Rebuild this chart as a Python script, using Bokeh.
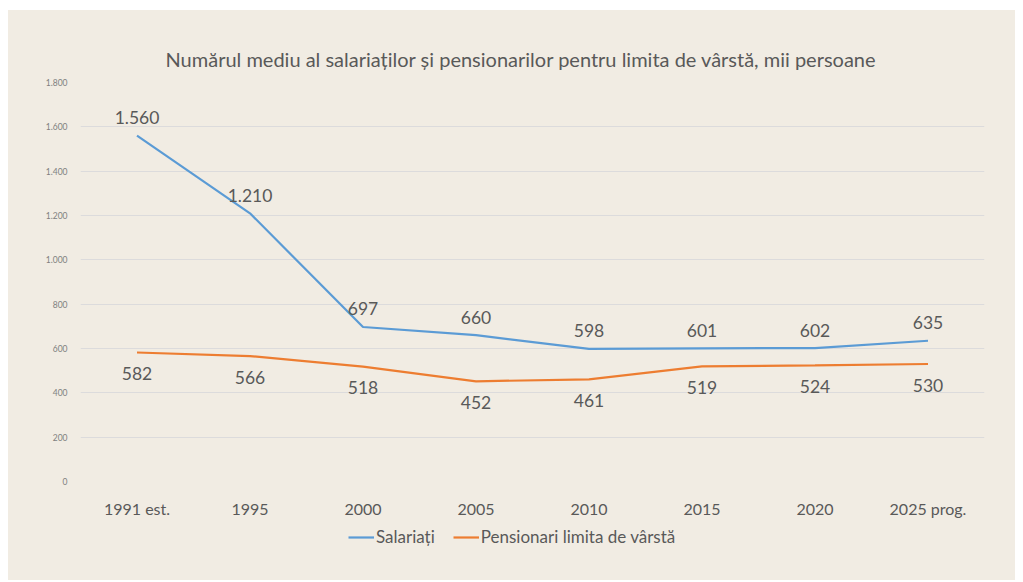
from bokeh.plotting import figure
from bokeh.layouts import column
from bokeh.models import Legend, LegendItem, FixedTicker, ColumnDataSource
from bokeh.core.properties import value
from bokeh.embed import file_html
from bokeh.resources import INLINE

categories = ["1991 est.", "1995", "2000", "2005", "2010", "2015", "2020", "2025 prog."]
salariati = [1560, 1210, 697, 660, 598, 601, 602, 635]
pensionari = [582, 566, 518, 452, 461, 519, 524, 530]
y_ticks = [0, 200, 400, 600, 800, 1000, 1200, 1400, 1600, 1800]
series_names = ["Salariați", "Pensionari limita de vârstă"]
title_text = "Numărul mediu al salariaților și pensionarilor pentru limita de vârstă, mii persoane"

FONT = "Lato"
BG = "#f1ece3"
BLUE = "#5B9BD5"
ORANGE = "#ED7D31"
TXT = "#595959"

def fmt(v):
    return f"{v:,}".replace(",", ".")

p = figure(x_range=categories, y_range=(0, 1800), width=1007, height=510,
           output_backend="svg", toolbar_location=None,
           min_border_left=72, min_border_right=31, min_border_top=72, min_border_bottom=35)

p.title.text = title_text
p.title.text_font = FONT
p.title.text_font_size = "20px"
p.title.text_font_style = "normal"
p.title.text_color = TXT
p.title.align = "left"
p.title.offset = 85
p.title.standoff = 24

p.background_fill_alpha = 0
p.border_fill_color = BG
p.outline_line_color = None

p.xgrid.grid_line_color = None
p.ygrid.grid_line_color = "#dcdbdc"
p.ygrid.grid_line_width = 1

p.yaxis.ticker = FixedTicker(ticks=y_ticks)
p.yaxis.major_label_overrides = {t: fmt(t) for t in y_ticks}
p.yaxis.major_label_text_font_size = "8.5px"
p.yaxis.major_label_text_color = "#7f7f7f"
p.yaxis.major_label_text_font = FONT
p.yaxis.axis_line_color = None
p.yaxis.major_tick_line_color = None
p.yaxis.minor_tick_line_color = None
p.yaxis.major_label_standoff = 7

p.xaxis.axis_line_color = None
p.xaxis.major_tick_line_color = None
p.xaxis.major_label_text_font_size = "16px"
p.xaxis.major_label_text_color = TXT
p.xaxis.major_label_text_font = FONT
p.xaxis.major_label_standoff = 11

p.x_range.range_padding = 0

src = ColumnDataSource(dict(
    x=categories, s=salariati, pz=pensionari,
    st=[fmt(v) for v in salariati], pt=[fmt(v) for v in pensionari]))

p.line("x", "s", source=src, line_color=BLUE, line_width=2.2)
p.line("x", "pz", source=src, line_color=ORANGE, line_width=2.2)

p.text("x", "s", text="st", source=src, text_align="center", text_baseline="middle",
       y_offset=-18, text_font=value(FONT), text_font_size="17.5px", text_color=TXT)
p.text("x", "pz", text="pt", source=src, text_align="center", text_baseline="middle",
       y_offset=21, text_font=value(FONT), text_font_size="17.5px", text_color=TXT)

# legend strip (helper lines drawn outside the visible range only to give legend swatches)
p2 = figure(width=1007, height=60, x_range=(0, 1), y_range=(0, 1),
            output_backend="svg", toolbar_location=None,
            min_border=0, min_border_left=0, min_border_right=0,
            min_border_top=0, min_border_bottom=0)
p2.axis.visible = False
p2.grid.visible = False
p2.outline_line_color = None
p2.background_fill_alpha = 0
p2.border_fill_color = BG
l1 = p2.line(x=[0, 1], y=[-5, -5], line_color=BLUE, line_width=2.2)
l2 = p2.line(x=[0, 1], y=[-5, -5], line_color=ORANGE, line_width=2.2)

legend = Legend(items=[LegendItem(label=series_names[0], renderers=[l1]),
                       LegendItem(label=series_names[1], renderers=[l2])],
                orientation="horizontal", location=(268, 33))
legend.label_text_font = FONT
legend.label_text_font_size = "17px"
legend.label_text_color = TXT
legend.border_line_color = None
legend.background_fill_alpha = 0
legend.glyph_width = 26
legend.label_standoff = 2
legend.spacing = 18
legend.padding = 4
legend.margin = 0
p2.add_layout(legend, "center")

layout = column(p, p2, spacing=0)
layout.margin = (10, 0, 0, 8)
layout.styles = {"background-color": BG}

open("out.html", "w").write(file_html(layout, INLINE))
